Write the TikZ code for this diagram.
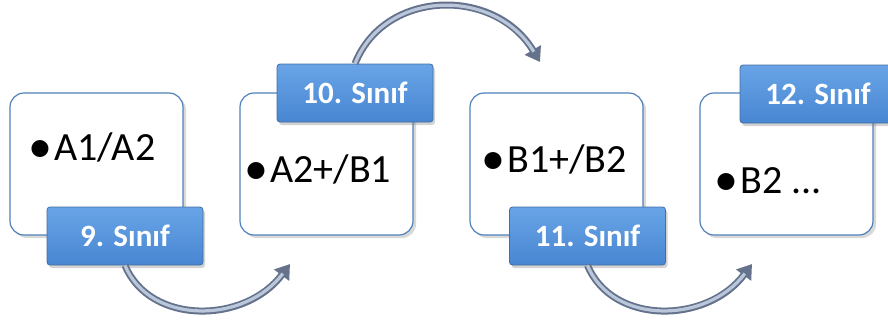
\documentclass[tikz,border=0pt]{standalone}
\usepackage{fontspec}
\setmainfont{Carlito}
\usetikzlibrary{arrows.meta,shadows}
\definecolor{kenar}{RGB}{79,129,189}
\definecolor{etiketust}{RGB}{104,164,230}
\definecolor{etiketalt}{RGB}{72,134,210}
\definecolor{okkoyu}{RGB}{100,114,140}
\definecolor{okacik}{RGB}{186,198,218}
\newcommand{\madim}{\llap{\raisebox{-1.3pt}{\scalebox{1.2}{\textbullet}}\hspace{1pt}}}

\begin{document}
\begin{tikzpicture}[x=0.5pt, y=-0.5pt,
kutu/.style={draw=kenar, line width=0.6pt, fill=white, rounded corners=7pt,
    minimum width=86.5pt, minimum height=71pt,
    drop shadow={opacity=0.3, shadow xshift=1.5pt, shadow yshift=-1.5pt}},
etiket/.style={draw=kenar!85!black, line width=0.4pt, top color=etiketust, bottom color=etiketalt,
    rounded corners=1.5pt, minimum width=78pt, minimum height=29pt, text=white,
    font=\fontsize{15.5}{17}\selectfont\bfseries,
    drop shadow={opacity=0.35, shadow xshift=1pt, shadow yshift=-1.5pt}},
madde/.style={anchor=base west, inner sep=0pt, font=\fontsize{20}{23}\selectfont},
okdis/.style={draw=okkoyu, line width=3.5pt, -{Triangle[width=9pt,length=7pt]}},
okic/.style={draw=okacik, line width=1.6pt, shorten >=6pt}
]
\useasboundingbox (0,0) rectangle (888,322);

% kutular
\foreach \n/\x in {9/96.5, 10/326.5, 11/556.5, 12/786.5}
    \node[kutu] (k\n) at (\x,164) {};

% maddeler
\node[madde] (m9)  at (54,160)  {\madim A1/A2};
\node[madde] (m10) at (270,182) {\madim A2+/B1};
\node[madde] (m11) at (507,172) {\madim B1+/B2};
\node[madde] (m12) at (740,193) {\madim B2 ...};

% etiketler
\node[etiket] (e9)  at (125,236)   {9. Sınıf};
\node[etiket] (e10) at (355,93)    {10. Sınıf};
\node[etiket] (e11) at (587.5,236) {11. Sınıf};
\node[etiket] (e12) at (818,94)    {12. Sınıf};

% oklar
\coordinate (u9)  at (290,264);
\coordinate (u10) at (540,62);
\coordinate (u11) at (752,264);
\foreach \a/\b/\c/\d in {e9.south/u9/{25,60}/{-45,60},
                         e10.north/u10/{30,-75}/{-45,-75},
                         e11.south/u11/{25,60}/{-45,60}}{
    \draw[okdis] (\a) .. controls +(\c) and +(\d) .. (\b);
    \draw[okic] (\a) .. controls +(\c) and +(\d) .. (\b);
}
\end{tikzpicture}
\end{document}
